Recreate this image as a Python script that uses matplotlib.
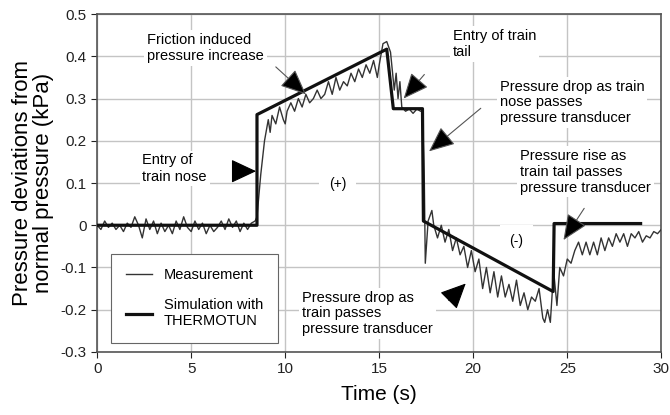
import matplotlib
matplotlib.use("Agg")
import matplotlib.pyplot as plt
from matplotlib.lines import Line2D

# Simulation (THERMOTUN) - piecewise line
t_sim = [0.0, 8.5, 8.5, 15.4, 15.75, 17.3, 17.35, 24.25, 24.3, 28.9]
p_sim = [0.0, 0.0, 0.262, 0.417, 0.276, 0.276, 0.010, -0.157, 0.004, 0.004]

t_meas = [0.0, 0.2, 0.4, 0.6, 0.8, 1.0, 1.2, 1.4, 1.6, 1.8, 2.0, 2.2, 2.4, 2.6, 2.8,
          3.0, 3.2, 3.4, 3.6, 3.8, 4.0, 4.2, 4.4, 4.6, 4.8, 5.0, 5.2, 5.4, 5.6, 5.8,
          6.0, 6.2, 6.4, 6.6, 6.8, 7.0, 7.2, 7.4, 7.6, 7.8, 8.0, 8.2, 8.4,
          8.5, 8.7, 8.9, 9.1, 9.2, 9.3, 9.5, 9.7, 9.9, 10.0, 10.1, 10.3, 10.5, 10.7,
          10.9, 11.1, 11.3, 11.5, 11.7, 11.9, 12.1, 12.3, 12.5, 12.7, 12.9, 13.1,
          13.3, 13.5, 13.7, 13.9, 14.1, 14.3, 14.5, 14.7, 14.9, 15.0, 15.2, 15.4,
          15.6, 15.8, 15.9, 16.0, 16.1, 16.2, 16.4, 16.6, 16.8, 17.0, 17.2, 17.3,
          17.4, 17.45, 17.6, 17.8, 17.9, 18.1, 18.3, 18.5, 18.7, 18.9, 19.1, 19.3,
          19.5, 19.7, 19.9, 20.1, 20.3, 20.5, 20.7, 20.9, 21.1, 21.3, 21.5, 21.7,
          21.9, 22.1, 22.3, 22.5, 22.7, 22.9, 23.1, 23.3, 23.5, 23.7, 23.8, 23.95,
          24.1, 24.2, 24.3, 24.45, 24.6, 24.8, 25.0, 25.2, 25.4, 25.6, 25.8, 26.0,
          26.2, 26.4, 26.6, 26.8, 27.0, 27.2, 27.4, 27.6, 27.8, 28.0, 28.2, 28.4,
          28.6, 28.8, 29.0, 29.2, 29.4, 29.6, 29.8, 30.0]
p_meas = [0.0, -0.01, 0.01, -0.005, 0.005, -0.01, 0.0, -0.015, 0.005, -0.005,
          0.02, 0.0, -0.03, 0.015, -0.01, 0.01, -0.02, 0.005, -0.015, 0.0,
          -0.02, 0.01, -0.01, 0.02, -0.005, -0.015, 0.01, -0.01, 0.005, -0.02,
          0.0, -0.015, -0.005, 0.01, -0.01, 0.015, -0.005, 0.01, -0.015, 0.005,
          -0.01, 0.005, 0.01,
          0.02, 0.12, 0.20, 0.25, 0.22, 0.26, 0.24, 0.28, 0.25, 0.24, 0.27, 0.29,
          0.27, 0.30, 0.28, 0.31, 0.29, 0.30, 0.32, 0.30, 0.31, 0.34, 0.31, 0.35,
          0.32, 0.34, 0.33, 0.36, 0.34, 0.37, 0.35, 0.38, 0.36, 0.39, 0.35, 0.38,
          0.43, 0.435, 0.41, 0.32, 0.36, 0.30, 0.34, 0.28, 0.27, 0.275, 0.265,
          0.275, 0.27, 0.27,
          0.10, -0.09, 0.01, 0.035, 0.0, -0.03, 0.0, -0.04, -0.01, -0.06, -0.03,
          -0.07, -0.05, -0.10, -0.06, -0.11, -0.08, -0.15, -0.10, -0.16, -0.11,
          -0.17, -0.12, -0.17, -0.14, -0.18, -0.13, -0.19, -0.16, -0.20, -0.17,
          -0.18, -0.15, -0.22, -0.23, -0.20, -0.23, -0.16, -0.12, -0.19, -0.10,
          -0.12, -0.08, -0.09, -0.06, -0.04, -0.07, -0.04, -0.07, -0.04, -0.07,
          -0.03, -0.06, -0.03, -0.05, -0.02, -0.04, -0.02, -0.05, -0.02, -0.03,
          -0.015, -0.04, -0.025, -0.03, -0.015, -0.02, -0.01]

x_ticks = [0, 5, 10, 15, 20, 25, 30]
y_ticks = [-0.3, -0.2, -0.1, 0, 0.1, 0.2, 0.3, 0.4, 0.5]
y_labels = ["-0.3", "-0.2", "-0.1", "0", "0.1", "0.2", "0.3", "0.4", "0.5"]

note_font = ["Liberation Sans Narrow", "Liberation Sans", "DejaVu Sans"]
plt.rcParams["font.family"] = ["Liberation Sans", "DejaVu Sans"]

fig = plt.figure(figsize=(6.7, 4.15), dpi=100)
ax = fig.add_axes([0.145, 0.152, 0.842, 0.814])

ax.plot(t_meas, p_meas, color="#333333", lw=1.0, zorder=3)
ax.plot(t_sim, p_sim, color="#111111", lw=2.3, zorder=4)

ax.set_xlim(0, 30)
ax.set_ylim(-0.3, 0.5)
ax.set_xticks(x_ticks)
ax.set_yticks(y_ticks)
ax.set_yticklabels(y_labels)
ax.tick_params(labelsize=11, colors="#222222", length=4, direction="out")
ax.grid(True, color="#c4c4c4", lw=1.0, zorder=0)
for s in ax.spines.values():
    s.set_color("#555555")
    s.set_linewidth(1.2)

ax.set_xlabel("Time (s)", fontsize=15, labelpad=6)
ax.set_ylabel("Pressure deviations from\nnormal pressure (kPa)", fontsize=16,
              labelpad=5, linespacing=0.95)

box = dict(facecolor="white", edgecolor="none", pad=2)
arrow = dict(arrowstyle="-|>,head_length=1.6,head_width=0.7",
             fc="black", ec="#555555", lw=0.8, shrinkA=0, shrinkB=0)
arrow_head = dict(arrowstyle="-|>,head_length=1.6,head_width=0.75",
                  fc="black", ec="black", lw=0.8, shrinkA=0, shrinkB=0)

ax.text(2.65, 0.455, "Friction induced\npressure increase", fontsize=10.5,
        family=note_font, va="top", ha="left", bbox=box, zorder=2, linespacing=1.2)
ax.annotate("", xy=(11.1, 0.31), xytext=(9.5, 0.375), arrowprops=arrow, zorder=5)

ax.text(18.9, 0.465, "Entry of train\ntail", fontsize=10.5, family=note_font,
        va="top", ha="left", bbox=box, zorder=2, linespacing=1.2)
ax.annotate("", xy=(16.3, 0.30), xytext=(17.4, 0.357), arrowprops=arrow, zorder=5)

ax.text(21.4, 0.345, "Pressure drop as train\nnose passes\npressure transducer",
        fontsize=10.5, family=note_font, va="top", ha="left", bbox=box, zorder=2,
        linespacing=1.15)
ax.annotate("", xy=(17.65, 0.175), xytext=(20.4, 0.277), arrowprops=arrow, zorder=5)

ax.text(2.4, 0.17, "Entry of\ntrain nose", fontsize=10.5, family=note_font,
        va="top", ha="left", bbox=box, zorder=2, linespacing=1.2)
ax.annotate("", xy=(8.45, 0.128), xytext=(7.5, 0.128), arrowprops=arrow_head, zorder=5)

ax.text(12.8, 0.098, "(+)", fontsize=10, family=note_font, va="center", ha="center",
        bbox=dict(facecolor="white", edgecolor="none", pad=7), zorder=2)

ax.text(22.5, 0.18, "Pressure rise as\ntrain tail passes\npressure transducer",
        fontsize=10.5, family=note_font, va="top", ha="left", bbox=box, zorder=2,
        linespacing=1.15)
ax.annotate("", xy=(24.8, -0.035), xytext=(25.9, 0.04), arrowprops=arrow, zorder=5)

ax.text(22.3, -0.038, "(-)", fontsize=10, family=note_font, va="center", ha="center",
        bbox=dict(facecolor="white", edgecolor="none", pad=7), zorder=2)

ax.text(10.9, -0.155, "Pressure drop as\ntrain passes\npressure transducer",
        fontsize=10.5, family=note_font, va="top", ha="left", bbox=box, zorder=2,
        linespacing=1.15)
ax.annotate("", xy=(19.6, -0.138), xytext=(18.7, -0.178), arrowprops=arrow_head, zorder=5)

handles = [Line2D([], [], color="#333333", lw=1.0),
           Line2D([], [], color="#111111", lw=2.3)]
leg = ax.legend(handles, ["Measurement", "Simulation with\nTHERMOTUN"],
                loc="lower left", bbox_to_anchor=(0.012, 0.005), fancybox=False,
                edgecolor="#666666", framealpha=1,
                prop={"family": note_font, "size": 10.5},
                handlelength=1.8, labelspacing=1.1, borderpad=1.0)
leg.get_frame().set_linewidth(0.8)
leg.set_zorder(6)

fig.savefig("out.png", dpi=100)
